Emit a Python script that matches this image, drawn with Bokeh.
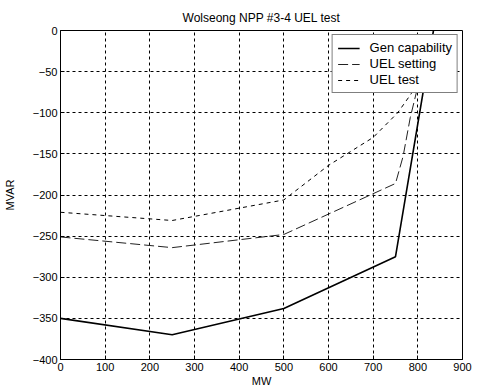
from bokeh.plotting import figure
from bokeh.models import Range1d, FixedTicker, Legend, LegendItem
from bokeh.embed import file_html
from bokeh.resources import INLINE

# Data
gen_mw = [0, 250, 500, 750, 835]
gen_mvar = [-350, -370, -338, -275, 0]

set_mw = [0, 250, 500, 750, 767, 783, 800, 820]
set_mvar = [-251, -264, -248, -186, -153, -106, -68, -20]

test_mw = [0, 250, 500, 600, 700, 755, 785, 800, 820]
test_mvar = [-221, -231, -206, -164, -130, -100, -77, -60, -30]

x_ticks = [0, 100, 200, 300, 400, 500, 600, 700, 800, 900]
y_ticks = [-400, -350, -300, -250, -200, -150, -100, -50, 0]

FONT = "Liberation Sans"

p = figure(width=477, height=389, output_backend="svg", toolbar_location=None,
           x_range=Range1d(0, 900), y_range=Range1d(-400, 0),
           title="Wolseong NPP #3-4 UEL test",
           min_border_left=58, min_border_right=15, min_border_top=30, min_border_bottom=30)

p.title.align = "center"
p.title.text_font = FONT
p.title.text_font_size = "12px"
p.title.text_font_style = "normal"
p.title.text_color = "black"
p.title.offset = 0
p.title.standoff = 11

p.outline_line_color = "black"
p.outline_line_width = 1
p.background_fill_color = "white"
p.border_fill_color = "white"

for ax in (p.xaxis[0], p.yaxis[0]):
    ax.major_label_text_font = FONT
    ax.major_label_text_font_size = "11px"
    ax.major_label_text_color = "black"
    ax.axis_label_text_font = FONT
    ax.axis_label_text_font_size = "11px"
    ax.axis_label_text_font_style = "normal"
    ax.axis_label_text_color = "black"
    ax.major_tick_in = 4
    ax.major_tick_out = 0
    ax.minor_tick_in = 0
    ax.minor_tick_out = 0
    ax.axis_line_color = "black"
    ax.major_tick_line_color = "black"
    ax.major_label_standoff = 3

p.xaxis.ticker = FixedTicker(ticks=x_ticks)
p.yaxis.ticker = FixedTicker(ticks=y_ticks)
p.xaxis.axis_label = "MW"
p.yaxis.axis_label = "MVAR"
p.xaxis.axis_label_standoff = 1
p.yaxis.axis_label_standoff = 14

for g in (p.xgrid[0], p.ygrid[0]):
    g.grid_line_color = "black"
    g.grid_line_dash = "3 3"
    g.grid_line_width = 1
p.xgrid.ticker = FixedTicker(ticks=x_ticks)
p.ygrid.ticker = FixedTicker(ticks=y_ticks)

r1 = p.line(gen_mw, gen_mvar, line_color="black", line_width=1.6)
r2 = p.line(set_mw, set_mvar, line_color="#222222", line_width=1, line_dash="10 4")
r3 = p.line(test_mw, test_mvar, line_color="black", line_width=1, line_dash="4 4")

legend = Legend(items=[
    LegendItem(label="Gen capability", renderers=[r1]),
    LegendItem(label="UEL setting", renderers=[r2]),
    LegendItem(label="UEL test", renderers=[r3]),
], location="top_right")
legend.border_line_color = "black"
legend.border_line_width = 1
legend.background_fill_alpha = 1
legend.label_text_font = FONT
legend.label_text_font_size = "13px"
legend.label_text_color = "black"
legend.glyph_width = 22
legend.glyph_height = 14
legend.label_height = 14
legend.label_standoff = 10
legend.spacing = 1
legend.padding = 5
legend.margin = 4
p.add_layout(legend)

open("out.html", "w").write(file_html(p, INLINE))
